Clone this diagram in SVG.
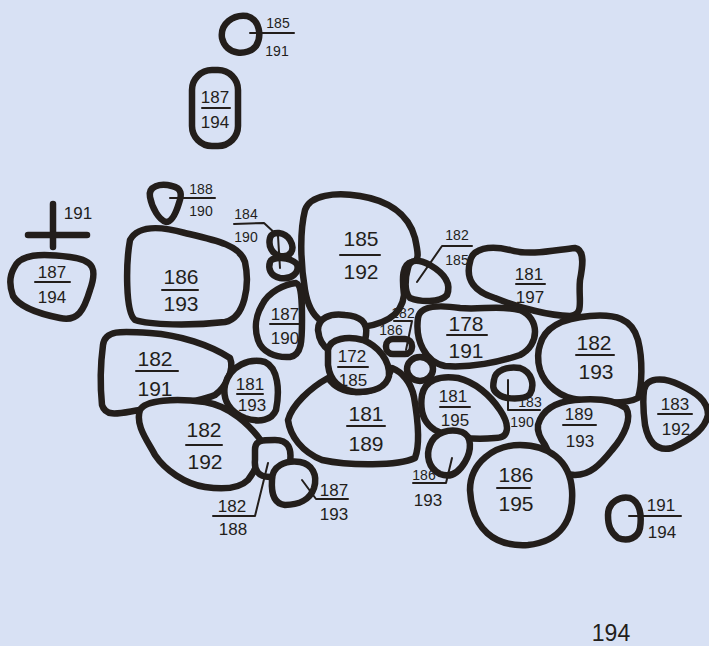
<svg xmlns="http://www.w3.org/2000/svg" width="709" height="646" viewBox="0 0 709 646">
<style>
.s{fill:#d8e1f4;stroke:#231e1b;stroke-width:6.5;stroke-linejoin:round;stroke-linecap:round}
.l{fill:none;stroke:#231e1b;stroke-width:2;stroke-linecap:round;stroke-linejoin:round}
.c{fill:none;stroke:#231e1b;stroke-width:6.5;stroke-linecap:round}
text{font-family:"Liberation Sans",Arial,sans-serif;fill:#231e1b;text-anchor:middle}
.b{font-size:21px}.m{font-size:17px}.t{font-size:14px}
</style>
<rect width="709" height="646" fill="#d8e1f4"/>
<g id="stone-185-191"><path class="s" d="M222,38 C220,24 233,14 247,16 C260,20 262,36 256,46 C248,56 226,56 222,38 Z"/><line class="l" x1="250" y1="33" x2="294" y2="33"/><text class="t" x="278" y="28">185</text><text class="t" x="277" y="56">191</text></g>
<g id="stone-187-194-top"><rect class="s" x="192" y="70" width="46" height="76" rx="20"/><line class="l" x1="202" y1="108" x2="230" y2="108"/><text class="m" x="215" y="103">187</text><text class="m" x="215" y="128">194</text></g>
<g id="stone-188-190"><path class="s" d="M150,197 C148,186 160,183 172,186 C182,188 182,195 179,203 C176,213 172,222 166,222 C159,220 152,208 150,197 Z"/><line class="l" x1="170" y1="198" x2="215" y2="198"/><text class="t" x="201" y="194">188</text><text class="t" x="201" y="216">190</text></g>
<g id="datum-191"><line class="c" x1="53" y1="204" x2="53" y2="247"/><line class="c" x1="28" y1="235" x2="87" y2="235"/><text class="m" x="78" y="219">191</text></g>
<g id="stone-187-194-left"><path class="s" d="M14,268 C20,254 40,253 70,257 C95,260 97,270 90,290 C84,310 78,322 60,318 C40,314 20,308 13,296 C9,285 10,275 14,268 Z"/><line class="l" x1="35" y1="282" x2="70" y2="282"/><text class="m" x="52" y="278">187</text><text class="m" x="52" y="303">194</text></g>
<g id="stone-186-193"><path class="s" d="M130,240 C138,225 160,226 185,233 C215,240 240,245 245,262 C250,285 245,318 225,322 C190,326 150,325 135,320 C125,312 126,262 130,240 Z"/><line class="l" x1="162" y1="290" x2="198" y2="290"/><text class="b" x="181" y="284">186</text><text class="b" x="181" y="311">193</text></g>
<g id="stone-185-192"><path class="s" d="M305,210 C310,195 335,192 360,196 C385,200 408,212 415,238 C418,252 420,262 412,262 C402,264 402,278 404,295 C402,315 385,326 352,328 C325,328 310,320 305,290 C300,260 300,230 305,210 Z"/><line class="l" x1="340" y1="255" x2="380" y2="255"/><text class="b" x="361" y="246">185</text><text class="b" x="361" y="279">192</text></g>
<g id="stone-187-190"><path class="s" d="M262,305 C268,292 285,284 296,283 C302,285 302,300 302,320 C302,340 302,355 290,357 C275,358 262,352 258,340 C254,328 256,315 262,305 Z"/><line class="l" x1="270" y1="324" x2="300" y2="324"/><text class="m" x="285" y="320">187</text><text class="m" x="285" y="344">190</text></g>
<g id="stones-184-190"><path class="s" d="M270,238 C272,230 285,232 290,240 C296,250 290,258 280,256 C272,254 268,246 270,238 Z"/><path class="s" d="M270,262 C272,256 290,257 297,264 C300,272 292,280 280,278 C270,276 268,268 270,262 Z"/><polyline class="l" points="234,224 264,223 278,236 280,268"/><text class="t" x="246" y="219">184</text><text class="t" x="246" y="242">190</text></g>
<g id="stone-182-185"><path class="s" d="M408,268 C410,258 420,260 430,265 C442,272 452,282 447,295 C440,303 420,302 410,298 C404,292 405,278 408,268 Z"/><polyline class="l" points="417,282 442,246 472,246"/><text class="t" x="457" y="240">182</text><text class="t" x="457" y="265">185</text></g>
<g id="stone-181-197"><path class="s" d="M470,262 C472,248 490,245 510,250 C530,256 555,250 575,248 C585,250 583,265 580,280 C578,300 585,315 570,316 C550,316 520,308 495,298 C475,292 465,280 470,262 Z"/><line class="l" x1="516" y1="284" x2="545" y2="284"/><text class="m" x="529" y="280">181</text><text class="m" x="530" y="303">197</text></g>
<g id="stone-178-191"><path class="s" d="M418,318 C420,305 440,305 460,308 C480,310 500,305 520,310 C540,318 540,345 520,355 C500,362 470,368 445,366 C425,362 415,340 418,318 Z"/><line class="l" x1="447" y1="335" x2="487" y2="335"/><text class="b" x="466" y="331">178</text><text class="b" x="466" y="358">191</text></g>
<g id="stone-upper-172"><path class="s" d="M318,330 C318,318 330,313 345,315 C360,316 368,322 366,335 C365,345 360,352 350,354 C335,356 320,350 318,330 Z"/></g>
<g id="stone-181-189"><path class="s" d="M288,420 C292,405 310,388 328,378 C335,388 345,393 360,392 C375,392 385,385 392,368 C402,372 411,382 414,397 C418,420 420,445 415,458 C398,466 350,466 322,460 C302,452 290,436 288,420 Z"/><line class="l" x1="347" y1="426" x2="385" y2="426"/><text class="b" x="366" y="421">181</text><text class="b" x="366" y="451">189</text></g>
<g id="stone-172-185"><path class="s" d="M328,350 C330,338 348,336 363,340 C378,346 390,360 389,376 C386,388 372,392 356,392 C340,390 330,382 328,365 Z"/><line class="l" x1="338" y1="367" x2="368" y2="367"/><text class="m" x="352" y="362">172</text><text class="m" x="353" y="386">185</text></g>
<g id="stone-small-mid"><ellipse class="s" cx="420" cy="369" rx="13" ry="12"/></g>
<g id="stone-182-186"><rect class="s" x="386" y="339" width="26" height="15" rx="7"/><polyline class="l" points="394,321 412,321 406,350"/><text class="t" x="403" y="318">182</text><text class="t" x="391" y="335">186</text></g>
<g id="stone-181-195"><path class="s" d="M422,395 C425,380 440,375 458,378 C475,382 490,395 500,410 C510,425 510,438 495,438 C475,440 450,438 435,430 C422,422 420,408 422,395 Z"/><line class="l" x1="440" y1="407" x2="470" y2="407"/><text class="m" x="453" y="402">181</text><text class="m" x="455" y="426">195</text></g>
<g id="stone-186-193-small"><path class="s" d="M430,445 C435,432 450,428 462,432 C472,436 472,450 465,462 C458,474 450,478 440,474 C428,468 426,455 430,445 Z"/><polyline class="l" points="413,483 446,483 452,458"/><text class="t" x="424" y="480">186</text><text class="m" x="428" y="506">193</text></g>
<g id="stone-183-190"><path class="s" d="M494,380 C495,370 508,366 520,368 C532,372 535,385 530,394 C525,400 505,400 498,394 C492,390 493,385 494,380 Z"/><polyline class="l" points="508,380 508,410 540,410"/><text class="t" x="530" y="407">183</text><text class="t" x="522" y="427">190</text></g>
<g id="stone-182-193"><path class="s" d="M540,345 C545,325 565,318 590,316 C615,314 632,318 638,340 C643,360 642,385 638,398 C625,405 600,402 580,400 C560,398 545,385 540,370 C537,360 538,350 540,345 Z"/><line class="l" x1="576" y1="355" x2="614" y2="355"/><text class="b" x="594" y="350">182</text><text class="b" x="596" y="379">193</text></g>
<g id="stone-189-193"><path class="s" d="M538,425 C542,410 555,402 575,400 C595,398 615,400 626,408 C632,418 625,435 612,450 C600,465 590,475 575,475 C558,475 550,455 545,445 C540,438 537,432 538,425 Z"/><line class="l" x1="563" y1="425" x2="596" y2="425"/><text class="m" x="579" y="420">189</text><text class="m" x="580" y="447">193</text></g>
<g id="stone-186-195"><path class="s" d="M470,490 C470,462 495,445 520,445 C548,445 570,460 572,490 C574,520 560,542 528,545 C495,547 472,530 470,490 Z"/><line class="l" x1="497" y1="488" x2="530" y2="488"/><text class="b" x="516" y="482">186</text><text class="b" x="516" y="511">195</text></g>
<g id="stone-183-192"><path class="s" d="M644,390 C646,378 662,376 680,385 C695,392 708,400 708,415 C705,430 690,440 672,448 C655,452 648,440 645,425 C643,410 643,398 644,390 Z"/><line class="l" x1="658" y1="414" x2="692" y2="414"/><text class="m" x="675" y="410">183</text><text class="m" x="676" y="435">192</text></g>
<g id="stone-191-194"><path class="s" d="M608,515 C608,502 620,496 630,498 C640,502 642,515 640,528 C638,538 628,542 618,538 C610,532 608,525 608,515 Z"/><line class="l" x1="629" y1="516" x2="681" y2="516"/><text class="m" x="661" y="511">191</text><text class="m" x="662" y="538">194</text></g>
<g id="stone-182-191"><path class="s" d="M103,345 C105,330 120,331 150,333 C180,335 210,345 230,358 C235,370 225,388 215,395 C200,402 170,405 140,410 C120,413 106,418 102,405 C100,385 101,360 103,345 Z"/><line class="l" x1="136" y1="371" x2="178" y2="371"/><text class="b" x="155" y="366">182</text><text class="b" x="155" y="396">191</text></g>
<g id="stone-181-193"><path class="s" d="M225,385 C230,365 250,358 265,362 C278,368 280,390 276,410 C272,420 260,423 245,418 C230,412 222,400 225,385 Z"/><line class="l" x1="237" y1="394" x2="263" y2="394"/><text class="m" x="250" y="390">181</text><text class="m" x="252" y="411">193</text></g>
<g id="stone-182-192"><path class="s" d="M140,410 C145,400 175,398 205,402 C230,406 250,425 262,442 C262,455 256,470 248,480 C240,488 225,490 205,487 C185,484 165,470 155,455 C147,440 135,425 140,410 Z"/><line class="l" x1="186" y1="445" x2="222" y2="445"/><text class="b" x="204" y="437">182</text><text class="b" x="205" y="469">192</text></g>
<g id="stone-182-188"><path class="s" d="M255,450 C255,440 262,440 275,440 C288,440 292,448 290,462 C288,472 285,477 270,477 C258,477 254,470 255,460 Z"/><polyline class="l" points="268,463 255,516 213,516"/><text class="m" x="232" y="512">182</text><text class="m" x="233" y="535">188</text></g>
<g id="stone-187-193"><path class="s" d="M272,480 C272,466 285,460 300,462 C312,464 318,475 314,488 C310,500 298,505 285,505 C275,504 271,495 272,480 Z"/><polyline class="l" points="302,480 316,499 348,499"/><text class="m" x="334" y="496">187</text><text class="m" x="334" y="520">193</text></g>
<g id="level-194"><text x="611" y="641" style="font-size:23px">194</text></g>
</svg>
